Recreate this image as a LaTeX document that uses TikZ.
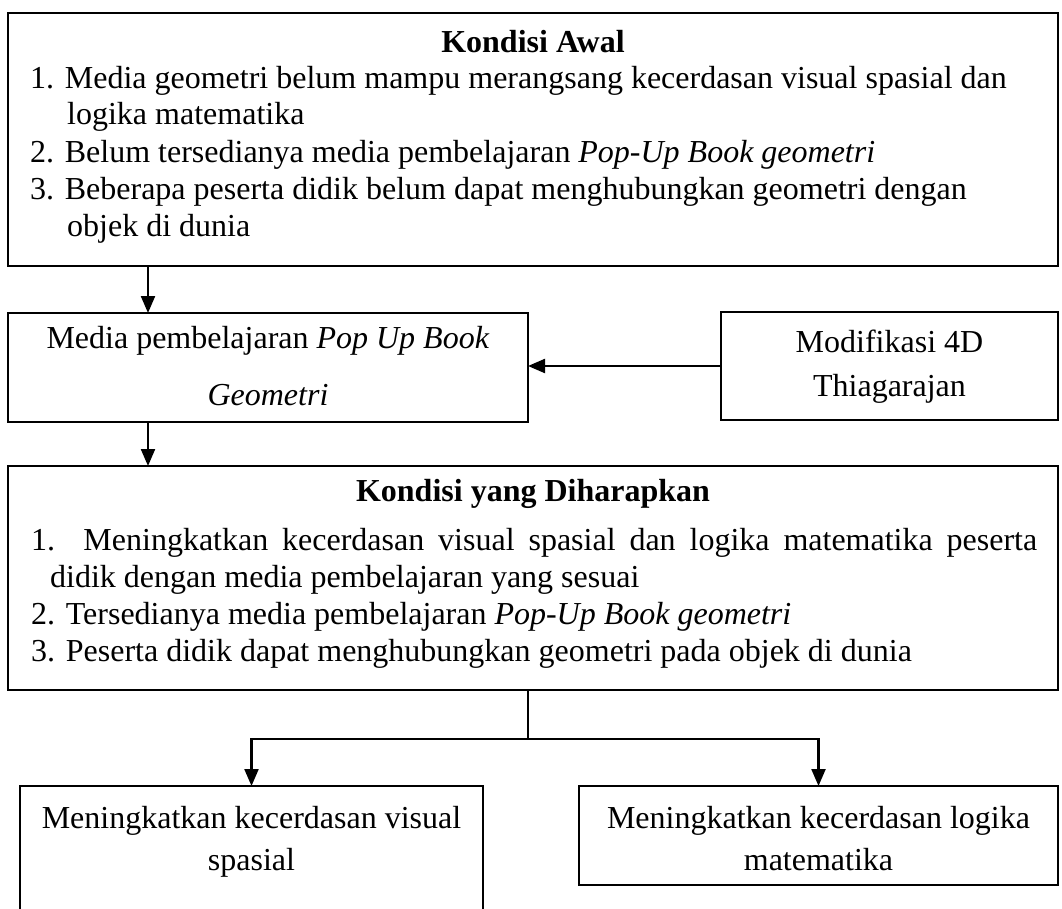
\documentclass[tikz,border=0pt]{standalone}
\usepackage{fontspec}
\setmainfont{Liberation Serif}
\usetikzlibrary{arrows.meta,calc}
\begin{document}
\begin{tikzpicture}[x=1pt,y=-1pt,
  box/.style={draw, line width=2pt, inner sep=0pt, outer sep=0pt, anchor=north west},
  txt/.style={inner sep=0pt, anchor=base west, font=\fontsize{32}{38}\selectfont},
  ctxt/.style={txt, anchor=base},
  arr/.style={line width=2.2pt, -{Triangle[length=17pt,width=14pt]}},
  ln/.style={line width=2.2pt}]
\clip (0,0) rectangle (1062,909);
\fill[white] (0,0) rectangle (1062,909);
% boxes
\node[box, minimum width=1050pt, minimum height=253pt] (b1) at (8,13) {};
\node[box, minimum width=520pt, minimum height=109pt] (b2) at (8,313) {};
\node[box, minimum width=337pt, minimum height=108pt] (b3) at (721,312) {};
\node[box, minimum width=1050pt, minimum height=224pt] (b4) at (8,466) {};
\node[box, minimum width=463pt, minimum height=160pt] (b5) at (20,786) {};
\node[box, minimum width=479pt, minimum height=99pt] (b6) at (579,786) {};
% texts box 1
\node[ctxt] (t1) at (533,53) {\textbf{Kondisi Awal}};
\node[txt] (t1a) at (30,89) {1. Media geometri belum mampu merangsang kecerdasan visual spasial dan};
\node[txt] (t1b) at (67,125) {logika matematika};
\node[txt] (t1c) at (30,163) {2. Belum tersedianya media pembelajaran \textit{Pop-Up Book geometri}};
\node[txt] (t1d) at (30,200) {3. Beberapa peserta didik belum dapat menghubungkan geometri dengan};
\node[txt] (t1e) at (67,237) {objek di dunia};
% box 2
\node[ctxt] (t2a) at (268,348) {Media pembelajaran \textit{Pop Up Book}};
\node[ctxt] (t2b) at (268,405) {\textit{Geometri}};
% box 3
\node[ctxt] (t3a) at (889.5,352) {Modifikasi 4D};
\node[ctxt] (t3b) at (889.5,396) {Thiagarajan};
% box 4
\node[ctxt] (t4) at (533,501) {\textbf{Kondisi yang Diharapkan}};
\node[txt] (t4a) at (31,550) {\makebox[1006pt][s]{1. Meningkatkan kecerdasan visual spasial dan logika matematika peserta}};
\node[txt] (t4b) at (50,587) {didik dengan media pembelajaran yang sesuai};
\node[txt] (t4c) at (31,624) {2. Tersedianya media pembelajaran \textit{Pop-Up Book geometri}};
\node[txt] (t4d) at (31,661) {3. Peserta didik dapat menghubungkan geometri pada objek di dunia};
% box 5, 6
\node[ctxt] (t5a) at (251.5,828) {Meningkatkan kecerdasan visual};
\node[ctxt] (t5b) at (251.5,870) {spasial};
\node[ctxt] (t6a) at (818.5,828) {Meningkatkan kecerdasan logika};
\node[ctxt] (t6b) at (818.5,870) {matematika};
% connectors
\coordinate (ax) at (148,0);
\coordinate (j) at (528,739);
\draw[arr] (b1.south -| ax) -- (b2.north -| ax);
\draw[arr] (b3.west) -- (b3.west -| b2.east);
\draw[arr] (b2.south -| ax) -- (b4.north -| ax);
\draw[ln] (b4.south -| j) -- (j);
\draw[arr] (j) -| (b5.north);
\draw[arr] (j) -| (b6.north);
\end{tikzpicture}
\end{document}
